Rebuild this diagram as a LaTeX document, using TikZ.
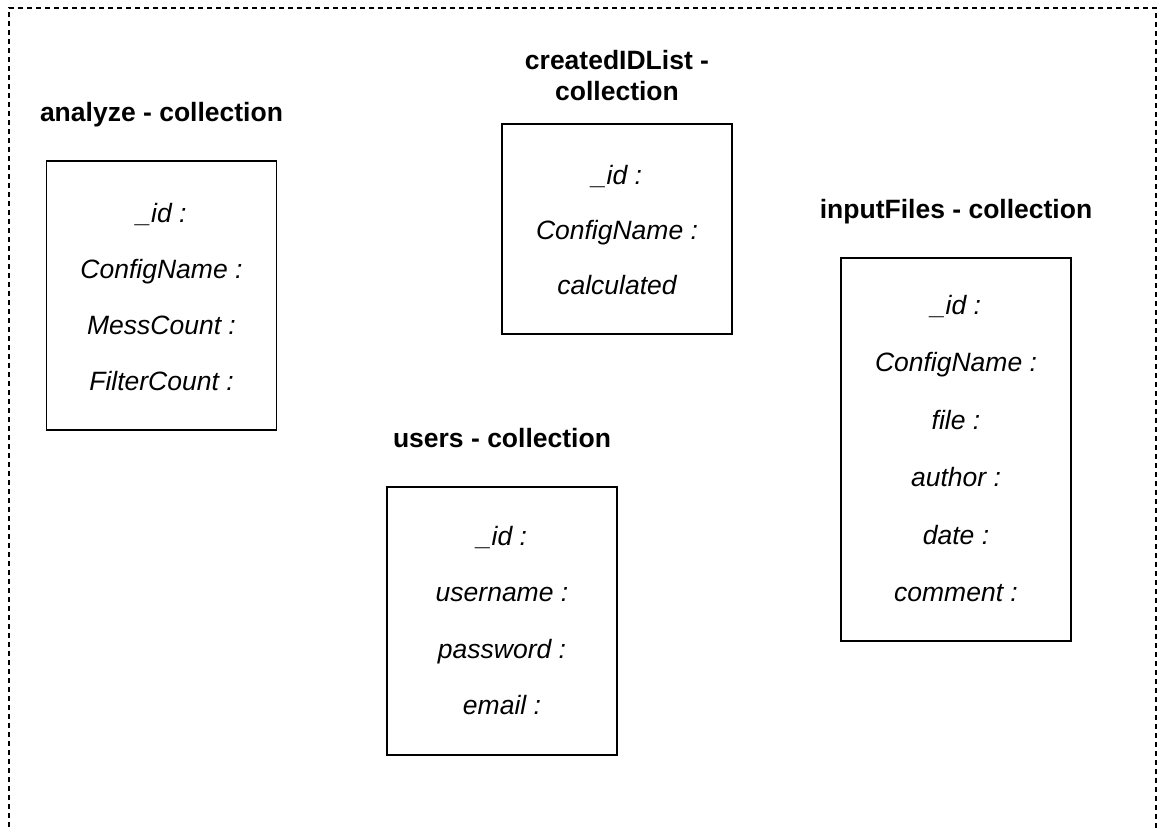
\documentclass[tikz,border=0pt]{standalone}
\usepackage{fontspec}
\setmainfont{Liberation Sans}
\begin{document}
\begin{tikzpicture}[x=1pt,y=-1pt,
  collbox/.style={draw=black, line width=1.5pt, minimum width=230pt, inner sep=0pt, fill=white},
  head/.style={font=\fontsize{26.5}{31}\selectfont\bfseries, inner sep=0pt, anchor=base, align=center},
  field/.style={font=\fontsize{26.5}{31}\selectfont\itshape, inner sep=0pt, anchor=base},
  frame/.style={draw=black, line width=1.6pt, dash pattern=on 5pt off 4pt}
]
\clip (0,0) rectangle (1158,829);
\fill[white] (0,0) rectangle (1158,829);
\draw[frame] (9,845) -- (9,8) -- (1156,8) -- (1156,845);

% analyze
\node[head] (ah) at (161.5,122) {analyze - collection};
\node[collbox, minimum height=269pt] (ab) at (161.5,295.5) {};
\node[field] (a1) at (161.5,222) {\_id :};
\node[field] (a2) at (161.5,278) {ConfigName :};
\node[field] (a3) at (161.5,334) {MessCount :};
\node[field] (a4) at (161.5,390) {FilterCount :};

% createdIDList
\node[head] (ch1) at (617,70) {createdIDList -};
\node[head] (ch2) at (617,101) {collection};
\node[collbox, minimum height=210pt] (cb) at (617,229) {};
\node[field] (c1) at (617,184) {\_id :};
\node[field] (c2) at (617,239) {ConfigName :};
\node[field] (c3) at (617,294) {calculated};

% users
\node[head] (uh) at (502,447) {users - collection};
\node[collbox, minimum height=268pt] (ub) at (502,621) {};
\node[field] (u1) at (502,545) {\_id :};
\node[field] (u2) at (502,601) {username :};
\node[field] (u3) at (502,658) {password :};
\node[field] (u4) at (502,714) {email :};

% inputFiles
\node[head] (ih) at (956,218) {inputFiles - collection};
\node[collbox, minimum height=383pt] (ib) at (956,449.5) {};
\node[field] (i1) at (956,314) {\_id :};
\node[field] (i2) at (956,371.5) {ConfigName :};
\node[field] (i3) at (956,429) {file :};
\node[field] (i4) at (956,486.5) {author :};
\node[field] (i5) at (956,544) {date :};
\node[field] (i6) at (956,601.5) {comment :};
\end{tikzpicture}
\end{document}
